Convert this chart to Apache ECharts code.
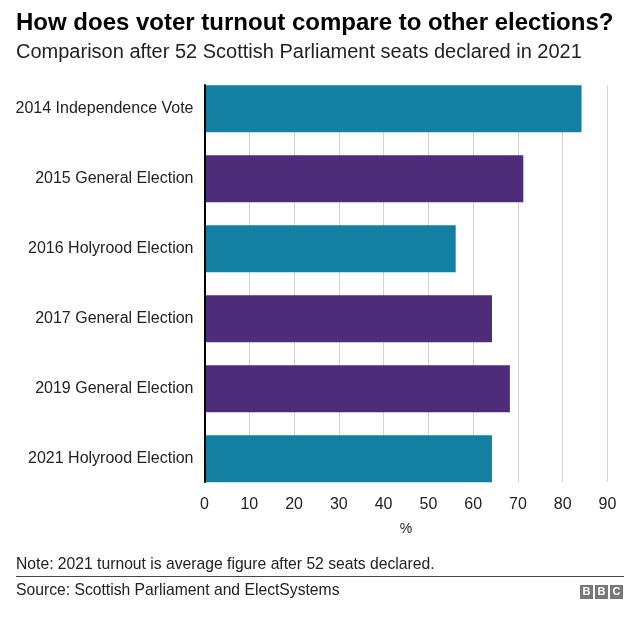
<!DOCTYPE html>
<html><head><meta charset="utf-8">
<script src="https://cdn.jsdelivr.net/npm/echarts@6/dist/echarts.min.js"></script>
<style>html,body{margin:0;padding:0;background:#fff}#c{width:640px;height:621px}</style>
</head><body><div id="c"></div>
<script>
const categories = ['2014 Independence Vote','2015 General Election','2016 Holyrood Election','2017 General Election','2019 General Election','2021 Holyrood Election'];
const turnout = [84.2, 71.2, 56.1, 64.2, 68.2, 64.2];
const electionType = ['Referendum','General','Holyrood','General','General','Holyrood'];
const xTicks = [0,10,20,30,40,50,60,70,80,90];

const TEAL = '#1380A1', PURPLE = '#4D2C7A';
const FONT = '"Liberation Sans", Arial, Helvetica, sans-serif';
const chart = echarts.init(document.getElementById('c'), null, {renderer:'canvas'});
const xMin = xTicks[0], xMax = xTicks[xTicks.length-1];
chart.setOption({
  animation:false,
  textStyle:{fontFamily:FONT},
  grid:[
    {left:204.5, right:32.5, top:73.7, bottom:127.3, containLabel:false},
    {left:204.5, right:32.5, top:85, bottom:139, containLabel:false}
  ],
  xAxis:[
    {type:'value', gridIndex:0, min:xMin, max:xMax, interval:10, show:false},
    {type:'value', gridIndex:1, min:xMin, max:xMax, interval:10,
      axisLine:{show:false}, axisTick:{show:false},
      splitLine:{show:true, lineStyle:{color:'#d4d4d8', width:1}},
      axisLabel:{color:'#222', fontSize:16, margin:15, fontFamily:FONT},
      name:'%', nameLocation:'middle', nameGap:40, nameTextStyle:{color:'#222', fontSize:14, fontFamily:FONT}}
  ],
  yAxis:[
    {type:'category', gridIndex:0, data:categories, inverse:true,
      axisLine:{show:false}, axisTick:{show:false}, splitLine:{show:false},
      axisLabel:{color:'#222', fontSize:16, margin:11, fontFamily:FONT}},
    {type:'value', gridIndex:1, min:0, max:1, z:10,
      axisLine:{show:true, onZero:false, lineStyle:{color:'#000', width:2}},
      axisTick:{show:false}, axisLabel:{show:false}, splitLine:{show:false}}
  ],
  series:[{type:'bar', xAxisIndex:0, yAxisIndex:0, barWidth:'67%',
    data: turnout.map((v,i)=>({value:v, itemStyle:{color: electionType[i]==='General'?PURPLE:TEAL}})),
    z:3}],
  graphic:[
    {type:'text', left:16, top:11, style:{text:'How does voter turnout compare to other elections?', font:'bold 24px '+FONT, fill:'#000'}},
    {type:'text', left:16, top:42, style:{text:'Comparison after 52 Scottish Parliament seats declared in 2021', font:'20px '+FONT, fill:'#222'}},
    {type:'text', left:16, top:557, style:{text:'Note: 2021 turnout is average figure after 52 seats declared.', font:'15.7px '+FONT, fill:'#222'}},
    {type:'rect', shape:{x:16, y:576, width:608, height:1}, style:{fill:'#444'}},
    {type:'text', left:16, top:583, style:{text:'Source: Scottish Parliament and ElectSystems', font:'15.7px '+FONT, fill:'#222'}},
    {type:'group', left:580, top:585, children:[
      {type:'rect', shape:{x:0,y:0,width:13,height:14}, style:{fill:'#777'}},
      {type:'text', x:6.5, y:7, style:{text:'B', font:'bold 11px '+FONT, fill:'#fff', align:'center', verticalAlign:'middle'}},
      {type:'rect', shape:{x:15,y:0,width:13,height:14}, style:{fill:'#777'}},
      {type:'text', x:21.5, y:7, style:{text:'B', font:'bold 11px '+FONT, fill:'#fff', align:'center', verticalAlign:'middle'}},
      {type:'rect', shape:{x:30,y:0,width:13,height:14}, style:{fill:'#777'}},
      {type:'text', x:36.5, y:7, style:{text:'C', font:'bold 11px '+FONT, fill:'#fff', align:'center', verticalAlign:'middle'}}
    ]}
  ]
});
</script></body></html>
